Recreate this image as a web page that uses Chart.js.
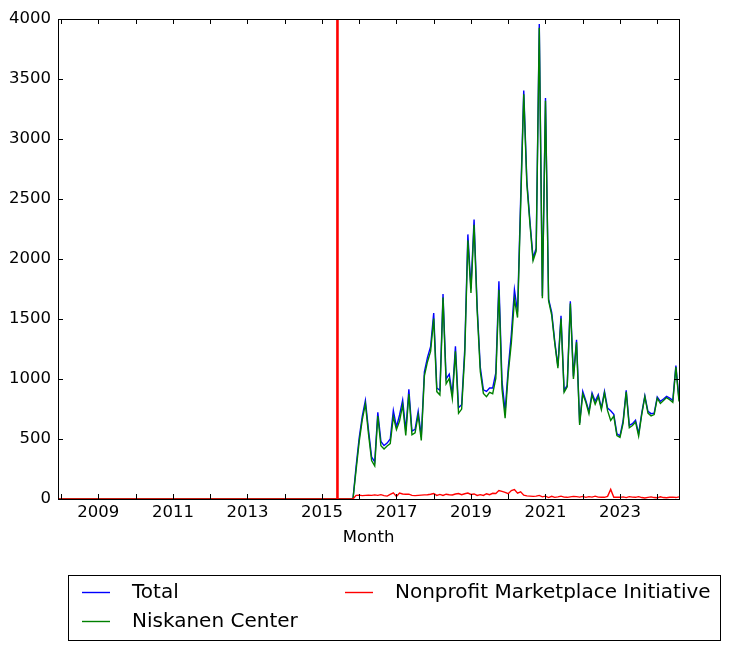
<!DOCTYPE html>
<html><head><meta charset="utf-8">
<script src="https://cdn.jsdelivr.net/npm/chart.js@4/dist/chart.umd.min.js"></script>
<style>html,body{margin:0;padding:0;background:#fff;}</style>
</head><body>
<canvas id="c" width="730" height="650"></canvas>
<script>
// ---- categories: monthly, 2007-12 .. 2024-08 ----
const firstMonth = [2007, 12];
const lastMonth = [2024, 8];

// ---- series values (one per month) ----
const total = [
  0, // 2007-12
  0,0,0,0,0,0,0,0,0,0,0,0, // 2008
  0,0,0,0,0,0,0,0,0,0,0,0, // 2009
  0,0,0,0,0,0,0,0,0,0,0,0, // 2010
  0,0,0,0,0,0,0,0,0,0,0,0, // 2011
  0,0,0,0,0,0,0,0,0,0,0,0, // 2012
  0,0,0,0,0,0,0,0,0,0,0,0, // 2013
  0,0,0,0,0,0,0,0,0,0,0,0, // 2014
  0,0,0,0,0,0,0,0,0,0,0,270, // 2015
  510,690,822,575,350,310,722,480,445,466,500,738, // 2016
  600,700,825,570,915,565,580,730,520,1060,1180,1270, // 2017
  1550,925,905,1708,1000,1040,870,1272,760,785,1250,2205, // 2018
  1755,2328,1600,1100,910,897,925,925,1050,1814,980,730, // 2019
  1090,1370,1744,1560,2500,3405,2650,2314,2008,2090,3958,1692, // 2020
  3342,1665,1555,1310,1108,1527,905,948,1647,1022,1327,633, // 2021
  897,820,730,883,814,869,758,897,758,735,705,544, // 2022
  527,650,905,614,628,656,544,716,861,730,711,716, // 2023
  850,814,833,855,841,822,1111,830 // 2024
];
const niskanen = [
  0, // 2007-12
  0,0,0,0,0,0,0,0,0,0,0,0, // 2008
  0,0,0,0,0,0,0,0,0,0,0,0, // 2009
  0,0,0,0,0,0,0,0,0,0,0,0, // 2010
  0,0,0,0,0,0,0,0,0,0,0,0, // 2011
  0,0,0,0,0,0,0,0,0,0,0,0, // 2012
  0,0,0,0,0,0,0,0,0,0,0,0, // 2013
  0,0,0,0,0,0,0,0,0,0,0,0, // 2014
  0,0,0,0,0,0,0,0,0,0,0,240, // 2015
  478,662,792,543,320,276,692,444,417,442,462,686, // 2016
  578,650,783,530,875,535,552,700,488,1026,1144,1230, // 2017
  1504,895,867,1678,960,1004,836,1230,714,749,1206,2155, // 2018
  1717,2286,1570,1064,880,853,889,877,1004,1744,916,674, // 2019
  1046,1300,1666,1512,2440,3373,2624,2290,1986,2066,3928,1674, // 2020
  3318,1653,1533,1296,1090,1503,889,934,1629,1000,1307,617, // 2021
  875,806,710,867,790,853,744,883,736,655,691,528, // 2022
  513,632,893,594,612,642,524,704,853,716,693,704, // 2023
  840,796,821,845,827,806,1099,812 // 2024
];
const nmi = [
  0, // 2007-12
  0,0,0,0,0,0,0,0,0,0,0,0, // 2008
  0,0,0,0,0,0,0,0,0,0,0,0, // 2009
  0,0,0,0,0,0,0,0,0,0,0,0, // 2010
  0,0,0,0,0,0,0,0,0,0,0,0, // 2011
  0,0,0,0,0,0,0,0,0,0,0,0, // 2012
  0,0,0,0,0,0,0,0,0,0,0,0, // 2013
  0,0,0,0,0,0,0,0,0,0,0,0, // 2014
  0,0,0,0,0,0,0,0,0,0,0,30, // 2015
  32,28,30,32,30,34,30,36,28,24,38,52, // 2016
  22,50,42,40,40,30,28,30,32,34,36,40, // 2017
  46,30,38,30,40,36,34,42,46,36,44,50, // 2018
  38,42,30,36,30,44,36,48,46,70,64,56, // 2019
  44,70,78,48,60,32,26,24,22,24,30,18, // 2020
  24,12,22,14,18,24,16,14,18,22,20,16, // 2021
  22,14,20,16,24,16,14,14,22,80,14,16, // 2022
  14,18,12,20,16,14,20,12,8,14,18,12, // 2023
  10,18,12,10,14,16,12,18 // 2024
];
const seriesNames = ['Total', 'Niskanen Center', 'Nonprofit Marketplace Initiative'];
const markerMonth = [2015, 6]; // vertical red line

// ---- tick labels ----
const xTickYears = [2009, 2011, 2013, 2015, 2017, 2019, 2021, 2023];
const xMinorYears = [2008, 2009, 2010, 2011, 2012, 2013, 2014, 2015, 2016, 2017, 2018, 2019, 2020, 2021, 2022, 2023, 2024];
const yTicks = [0, 500, 1000, 1500, 2000, 2500, 3000, 3500, 4000];

// ---- build month positions (decimal years) ----
const monthPos = [];
{
  let y = firstMonth[0], m = firstMonth[1];
  while (y < lastMonth[0] || (y === lastMonth[0] && m <= lastMonth[1])) {
    monthPos.push(y + (m - 1) / 12);
    m++; if (m > 12) { m = 1; y++; }
  }
}
const toPts = arr => arr.map((v, i) => ({ x: monthPos[i], y: v }));
const markerX = markerMonth[0] + (markerMonth[1] - 1) / 12;

const FONT = 'DejaVu Sans';
const FS = 16.5;
const LEGEND_FS = 20;
Chart.defaults.font.family = FONT;
Chart.defaults.font.size = FS;
Chart.defaults.color = '#000';

const colors = ['#0000ff', '#008000', '#ff0000'];

const decor = {
  id: 'decor',
  afterDatasetsDraw(chart) {
    const ctx = chart.ctx, a = chart.chartArea;
    const xs = chart.scales.x, ys = chart.scales.y;
    ctx.save();
    // vertical marker line
    const vx = xs.getPixelForValue(markerX);
    ctx.strokeStyle = '#ff0000'; ctx.lineWidth = 2.6;
    ctx.beginPath(); ctx.moveTo(vx, a.top); ctx.lineTo(vx, a.bottom); ctx.stroke();
    // frame
    ctx.strokeStyle = '#000'; ctx.lineWidth = 1;
    ctx.strokeRect(Math.round(a.left) + 0.5, Math.round(a.top) + 0.5,
                   Math.round(a.right) - Math.round(a.left), Math.round(a.bottom) - Math.round(a.top));
    // inward ticks
    const L = 5;
    ctx.beginPath();
    xMinorYears.forEach(v => {
      const px = Math.round(xs.getPixelForValue(v)) + 0.5;
      ctx.moveTo(px, a.bottom); ctx.lineTo(px, a.bottom - L);
      ctx.moveTo(px, a.top); ctx.lineTo(px, a.top + L);
    });
    yTicks.forEach(v => {
      const py = Math.round(ys.getPixelForValue(v)) + 0.5;
      ctx.moveTo(a.left, py); ctx.lineTo(a.left + L, py);
      ctx.moveTo(a.right, py); ctx.lineTo(a.right - L, py);
    });
    ctx.stroke();
    ctx.restore();
  },
  afterDraw(chart) {
    const ctx = chart.ctx;
    ctx.save();
    // legend box
    ctx.strokeStyle = '#000'; ctx.lineWidth = 1;
    ctx.strokeRect(68.5, 575.5, 652, 65);
    const items = [
      { i: 0, col: 0, row: 0 },
      { i: 1, col: 0, row: 1 },
      { i: 2, col: 1, row: 0 }
    ];
    const colX = [82, 345], rowY = [592, 621];
    ctx.font = LEGEND_FS + 'px "' + FONT + '"';
    ctx.textBaseline = 'middle'; ctx.textAlign = 'left';
    items.forEach(it => {
      const x0 = colX[it.col], y0 = rowY[it.row];
      ctx.strokeStyle = colors[it.i]; ctx.lineWidth = 1.4;
      ctx.beginPath(); ctx.moveTo(x0, y0 + 0.5); ctx.lineTo(x0 + 28, y0 + 0.5); ctx.stroke();
      ctx.fillStyle = '#000';
      ctx.fillText(seriesNames[it.i], x0 + 50, y0 + 1);
    });
    ctx.restore();
  }
};

new Chart(document.getElementById('c'), {
  type: 'line',
  data: {
    datasets: [
      { label: seriesNames[0], data: toPts(total), borderColor: colors[0], borderWidth: 1.4, pointRadius: 0, order: 3, clip: 4, tension: 0 },
      { label: seriesNames[1], data: toPts(niskanen), borderColor: colors[1], borderWidth: 1.4, pointRadius: 0, order: 2, clip: 4, tension: 0 },
      { label: seriesNames[2], data: toPts(nmi), borderColor: colors[2], borderWidth: 1.4, pointRadius: 0, order: 1, clip: 4, tension: 0 }
    ]
  },
  options: {
    responsive: false,
    animation: false,
    devicePixelRatio: 1,
    events: [],
    layout: { padding: { left: 0, top: 19, right: 51, bottom: 102 } },
    plugins: { legend: { display: false }, tooltip: { enabled: false } },
    scales: {
      x: {
        type: 'linear',
        min: monthPos[0],
        max: monthPos[monthPos.length - 1],
        grid: { display: false, drawTicks: false },
        border: { display: false },
        afterBuildTicks: axis => { axis.ticks = xTickYears.map(v => ({ value: v })); },
        afterFit: axis => { axis.height = 49; },
        ticks: { autoSkip: false, maxRotation: 0, padding: 4, callback: v => String(v) },
        title: { display: true, text: 'Month', padding: 0, font: { size: FS } }
      },
      y: {
        min: 0, max: 4000,
        grid: { display: false, drawTicks: false },
        border: { display: false },
        afterBuildTicks: axis => { axis.ticks = yTicks.map(v => ({ value: v })); },
        afterFit: axis => { axis.width = 58; },
        ticks: { padding: 7, callback: v => String(v) }
      }
    }
  },
  plugins: [decor]
});
</script>
</body></html>
